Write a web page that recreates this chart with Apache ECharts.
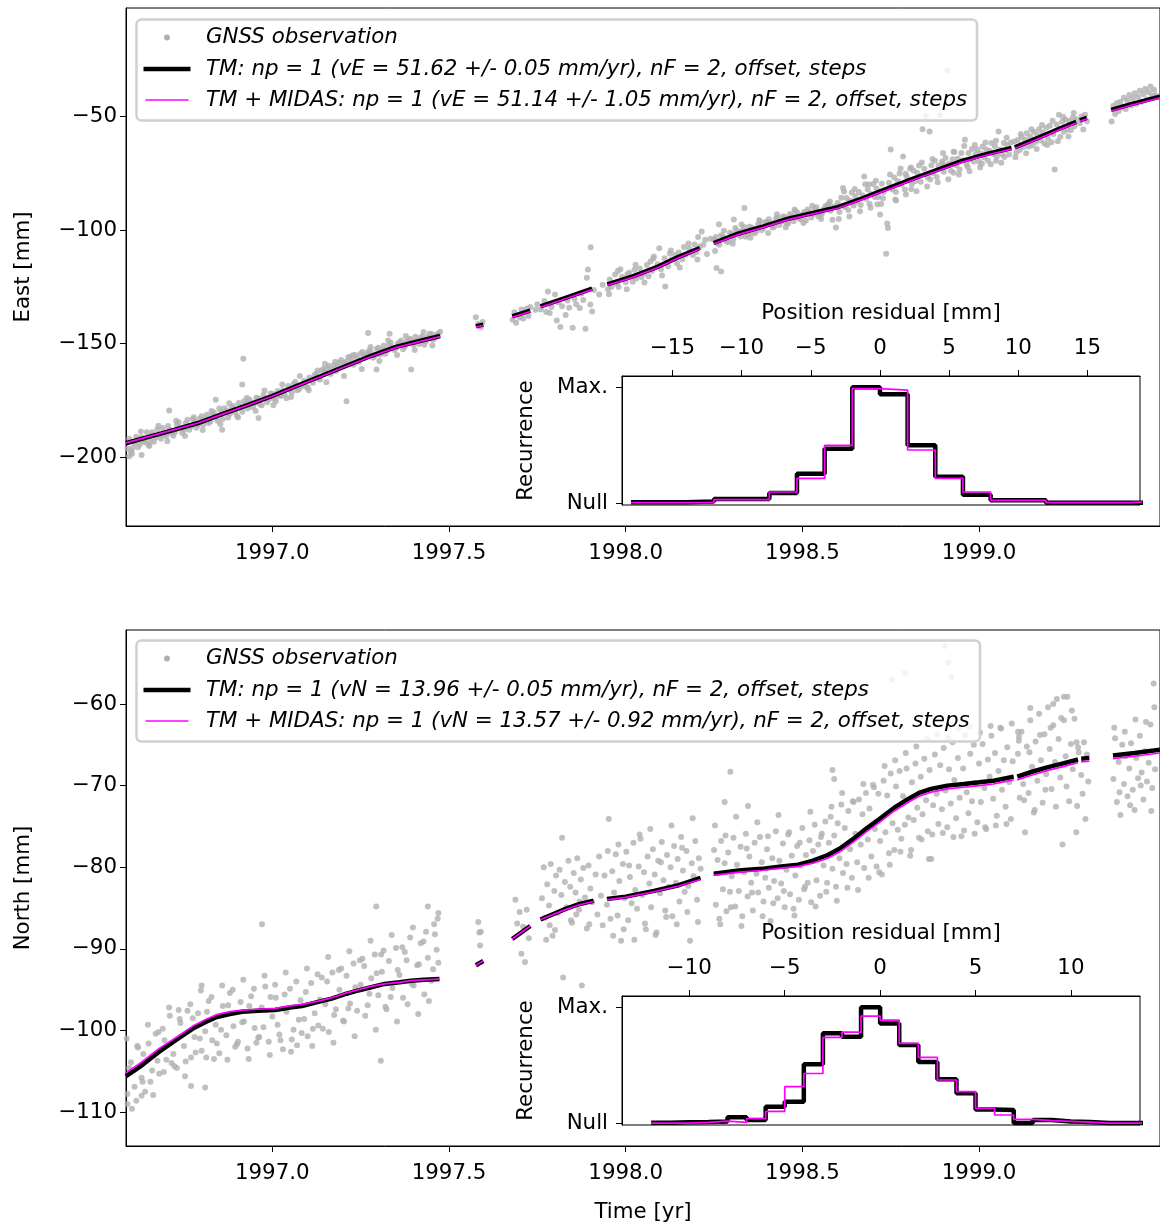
<!DOCTYPE html>
<html>
<head>
<meta charset="utf-8">
<script src="https://cdn.jsdelivr.net/npm/echarts@6.0.0/dist/echarts.min.js"></script>
<style>html,body{margin:0;padding:0;background:#fff}#c{width:1160px;height:1225px}</style>
</head>
<body>
<div id="c"></div>
<script>
// ---------------- DATA ----------------
const timeTicks = [1997.0, 1997.5, 1998.0, 1998.5, 1999.0];
const eastTicks = [-200, -150, -100, -50];
const northTicks = [-110, -100, -90, -80, -70, -60];
const eastResidTicks = [-15, -10, -5, 0, 5, 10, 15];
const northResidTicks = [-10, -5, 0, 5, 10];

const legendEast = ['GNSS observation',
  'TM: np = 1 (vE = 51.62 +/- 0.05 mm/yr), nF = 2, offset, steps',
  'TM + MIDAS: np = 1 (vE = 51.14 +/- 1.05 mm/yr), nF = 2, offset, steps'];
const legendNorth = ['GNSS observation',
  'TM: np = 1 (vN = 13.96 +/- 0.05 mm/yr), nF = 2, offset, steps',
  'TM + MIDAS: np = 1 (vN = 13.57 +/- 0.92 mm/yr), nF = 2, offset, steps'];

// East observations [time (yr), position (mm)]
const eastObs = [
[1996.59,-196.1],[1996.60,-197.3],[1996.61,-193.7],[1996.62,-195.5],[1996.63,-191.1],[1996.64,-193.4],[1996.65,-194.6],[1996.66,-189.0],[1996.67,-191.3],[1996.68,-190.0],[1996.69,-187.1],[1996.70,-190.6],[1996.71,-187.9],[1996.72,-190.5],[1996.73,-185.6],[1996.74,-186.9],[1996.75,-188.0],[1996.76,-183.4],[1996.77,-186.4],[1996.78,-184.2],[1996.79,-185.8],[1996.80,-181.9],[1996.81,-183.5],[1996.82,-184.9],[1996.83,-181.0],[1996.84,-182.3],[1996.85,-178.5],[1996.86,-183.1],[1996.87,-179.5],[1996.88,-180.8],[1996.89,-177.4],[1996.90,-181.8],[1996.91,-177.7],[1996.92,-175.3],[1996.93,-178.5],[1996.94,-175.7],[1996.95,-176.2],[1996.96,-174.0],[1996.97,-177.1],[1996.98,-174.0],[1996.99,-174.4],[1997.00,-172.0],[1997.01,-175.3],[1997.02,-173.0],[1997.03,-170.5],[1997.04,-174.0],[1997.05,-170.3],[1997.06,-167.8],[1997.07,-170.5],[1997.08,-169.0],[1997.09,-166.4],[1997.10,-169.3],[1997.11,-165.8],[1997.12,-163.8],[1997.13,-165.4],[1997.14,-161.8],[1997.15,-162.7],[1997.16,-159.7],[1997.17,-161.0],[1997.18,-162.0],[1997.19,-158.3],[1997.20,-159.8],[1997.21,-157.8],[1997.22,-155.7],[1997.23,-159.3],[1997.24,-156.3],[1997.25,-154.4],[1997.26,-156.3],[1997.27,-153.9],[1997.28,-154.2],[1997.29,-155.3],[1997.30,-151.8],[1997.31,-152.9],[1997.32,-154.4],[1997.33,-150.7],[1997.34,-151.8],[1997.35,-151.9],[1997.36,-149.4],[1997.37,-152.4],[1997.38,-149.3],[1997.39,-147.8],[1997.40,-150.5],[1997.41,-148.7],[1997.42,-147.3],[1997.43,-150.5],[1997.44,-147.1],[1997.45,-145.7],[1997.46,-147.5],[1997.47,-145.7],
[1996.595,-191.8],[1996.605,-195.9],[1996.615,-190.9],[1996.625,-194.2],[1996.635,-192.9],[1996.645,-188.9],[1996.655,-192.7],[1996.665,-193.1],[1996.675,-187.6],[1996.685,-191.8],[1996.695,-189.9],[1996.705,-186.2],[1996.715,-189.4],[1996.725,-188.8],[1996.735,-184.6],[1996.745,-189.3],[1996.755,-185.0],[1996.765,-187.8],[1996.775,-183.1],[1996.785,-187.0],[1996.795,-183.0],[1996.805,-185.7],[1996.815,-181.2],[1996.825,-184.2],[1996.835,-180.3],[1996.845,-183.9],[1996.855,-180.0],[1996.865,-178.4],[1996.875,-182.5],[1996.885,-178.1],[1996.895,-180.2],[1996.905,-176.1],[1996.915,-179.9],[1996.925,-176.4],[1996.935,-174.5],[1996.945,-177.9],[1996.955,-173.8],[1996.965,-176.6],[1996.975,-172.6],[1996.985,-175.7],[1996.995,-171.9],[1997.005,-174.3],[1997.015,-170.8],[1997.025,-172.9],[1997.035,-172.4],[1997.045,-168.6],[1997.055,-171.6],[1997.065,-166.8],[1997.075,-170.1],[1997.085,-167.9],[1997.095,-168.9],[1997.105,-164.9],[1997.115,-167.2],[1997.125,-163.1],[1997.135,-165.8],[1997.145,-161.0],[1997.155,-160.8],[1997.165,-163.3],[1997.175,-159.4],[1997.185,-160.1],[1997.195,-157.2],[1997.205,-158.6],[1997.215,-156.0],[1997.225,-157.5],[1997.235,-155.0],[1997.245,-158.1],[1997.255,-153.6],[1997.265,-155.1],[1997.275,-152.9],[1997.285,-156.2],[1997.295,-152.3],[1997.305,-154.8],[1997.315,-150.9],[1997.325,-153.0],[1997.335,-149.6],[1997.345,-152.8],[1997.355,-150.0],[1997.365,-148.6],[1997.375,-151.2],[1997.385,-148.1],[1997.395,-148.9],[1997.405,-146.9],[1997.415,-150.1],[1997.425,-146.8],[1997.435,-148.9],[1997.445,-145.6],[1997.455,-148.3],[1997.465,-146.0],[1997.475,-144.7],
[1996.918,-156.6],[1996.915,-168.0],[1996.84,-174.6],[1996.708,-179.4],[1997.21,-175.3],[1997.393,-161.4],[1997.295,-161.4],[1997.149,-158.8],[1997.271,-145.3],[1997.332,-145.6],[1996.961,-182.7],[1996.858,-187.8],[1996.595,-199.5],[1996.63,-199.0],
[1997.576,-138.4],[1997.583,-141.3],[1997.59,-142.8],[1997.595,-140.5],
[1997.68,-139.5],[1997.685,-136.2],[1997.69,-140.8],[1997.70,-138.5],[1997.705,-135.0],[1997.71,-138.9],[1997.72,-134.6],[1997.725,-137.8],[1997.73,-133.9],[1997.745,-135.1],[1997.75,-132.6],[1997.76,-134.9],[1997.77,-131.2],[1997.775,-136.0],[1997.78,-127.0],[1997.785,-136.5],[1997.79,-133.8],[1997.80,-128.4],[1997.805,-139.8],[1997.81,-131.9],[1997.815,-142.7],[1997.82,-133.5],[1997.83,-137.4],[1997.835,-131.0],[1997.84,-134.2],[1997.85,-143.0],[1997.855,-130.3],[1997.86,-132.6],[1997.87,-134.3],[1997.875,-127.9],[1997.88,-130.8],[1997.886,-143.4],[1997.89,-121.0],[1997.893,-117.4],[1997.90,-132.7],[1997.901,-107.6],[1997.905,-135.8],[1997.91,-126.4],[1997.925,-128.3],[1997.935,-124.1],
[1997.95,-126.0],[1997.955,-121.8],[1997.96,-124.9],[1997.97,-119.6],[1997.975,-123.6],[1997.98,-125.1],[1997.985,-117.2],[1997.99,-120.5],[1998.00,-123.0],[1998.005,-119.4],[1998.01,-118.8],[1998.02,-122.7],[1998.025,-117.5],[1998.03,-121.3],[1998.04,-116.9],[1998.045,-120.6],[1998.05,-119.2],[1998.06,-115.4],[1998.065,-120.3],[1998.07,-113.8],[1998.075,-117.9],[1998.08,-111.6],[1998.09,-115.0],[1998.095,-108.0],[1998.10,-117.2],[1998.11,-112.4],[1998.112,-124.8],[1998.12,-115.9],[1998.125,-110.3],[1998.13,-113.0],[1998.14,-111.0],[1998.145,-114.6],[1998.15,-109.9],[1998.16,-112.8],[1998.165,-107.5],[1998.17,-110.9],[1998.18,-108.2],[1998.19,-111.0],[1998.195,-106.4],[1998.20,-109.7],[1998.205,-103.0],[1998.21,-107.2],[1998.215,-100.6],[1998.22,-106.5],[1998.225,-104.3],[1998.23,-110.5],[1998.24,-103.8],[1998.257,-116.7],[1998.27,-118.2],
[1998.25,-104.2],[1998.26,-105.9],[1998.27,-102.3],[1998.28,-103.5],[1998.29,-105.2],[1998.30,-101.6],[1998.31,-99.1],[1998.32,-102.0],[1998.33,-100.2],[1998.34,-102.9],[1998.35,-98.5],[1998.36,-99.5],[1998.37,-100.5],[1998.38,-96.3],[1998.39,-99.1],[1998.40,-96.6],[1998.41,-96.8],[1998.42,-98.5],[1998.43,-94.5],[1998.44,-96.2],[1998.45,-94.1],[1998.46,-97.1],[1998.47,-93.8],[1998.48,-91.6],[1998.49,-94.9],[1998.50,-93.3],[1998.51,-95.8],[1998.52,-91.9],[1998.53,-92.9],[1998.54,-90.0],[1998.55,-93.2],[1998.56,-90.9],[1998.57,-89.2],[1998.58,-91.5],[1998.59,-89.6],
[1998.264,-97.4],[1998.306,-95.4],[1998.336,-90.3],[1998.355,-101.3],[1998.405,-95.2],[1998.455,-96.9],[1998.505,-92.0],[1998.545,-94.0],[1998.575,-88.4],[1998.585,-95.5],[1998.595,-98.9],
[1998.255,-103.1],[1998.265,-106.5],[1998.275,-102.9],[1998.285,-105.0],[1998.295,-101.2],[1998.305,-103.9],[1998.315,-100.3],[1998.325,-102.8],[1998.335,-98.7],[1998.345,-101.9],[1998.357,-98.9],[1998.365,-101.4],[1998.375,-97.4],[1998.385,-100.0],[1998.395,-96.4],[1998.415,-98.9],[1998.425,-95.1],[1998.435,-97.8],[1998.445,-94.0],[1998.465,-92.9],[1998.475,-96.1],[1998.485,-92.3],[1998.495,-95.2],[1998.515,-91.0],[1998.525,-94.5],[1998.535,-90.6],[1998.555,-92.9],[1998.565,-89.5],
[1998.600,-88.1],[1998.605,-92.0],[1998.610,-85.8],[1998.615,-81.5],[1998.620,-89.9],[1998.625,-85.9],[1998.630,-91.2],[1998.635,-87.1],[1998.640,-83.5],[1998.645,-89.2],[1998.650,-85.1],[1998.655,-87.4],[1998.660,-83.3],[1998.665,-89.0],[1998.670,-84.8],[1998.675,-76.4],[1998.680,-86.2],[1998.685,-82.2],[1998.690,-88.4],[1998.695,-84.1],[1998.700,-79.7],[1998.705,-85.4],[1998.710,-81.7],[1998.715,-85.5],[1998.720,-93.1],[1998.725,-79.6],[1998.730,-83.3],[1998.737,-110.4],[1998.740,-97.1],[1998.745,-79.2],[1998.750,-64.6],[1998.755,-82.1],[1998.760,-76.9],[1998.765,-83.2],[1998.770,-78.5],[1998.775,-75.1],[1998.780,-80.0],[1998.785,-67.6],[1998.790,-82.2],[1998.795,-76.3],[1998.800,-78.1],[1998.805,-72.9],[1998.810,-79.6],[1998.815,-73.9],[1998.820,-78.4],[1998.825,-74.8],[1998.830,-71.6],[1998.835,-78.7],[1998.840,-55.6],[1998.845,-73.0],[1998.850,-49.8],[1998.855,-76.9],[1998.860,-56.6],[1998.865,-71.5],[1998.870,-74.9],[1998.875,-69.5],[1998.880,-76.7],[1998.885,-71.7],[1998.890,-49.4],[1998.895,-69.9],[1998.900,-74.3],[1998.905,-68.3],[1998.910,-29.9],[1998.915,-70.8],[1998.920,-73.9],[1998.925,-68.8],[1998.930,-65.6],[1998.935,-71.5],[1998.940,-68.5],[1998.945,-73.3],[1998.950,-66.1],[1998.955,-69.3],[1998.960,-60.3],[1998.965,-71.1],[1998.970,-66.1],[1998.975,-69.0],[1998.980,-64.3],[1998.985,-69.8],[1998.990,-66.6],[1998.995,-64.5],[1999.000,-69.9],[1999.005,-66.3],[1999.010,-63.2],[1999.015,-68.1],[1999.020,-64.6],[1999.025,-69.4],[1999.030,-65.1],[1999.035,-61.7],[1999.040,-66.5],[1999.045,-63.1],[1999.050,-67.6],[1999.055,-56.6],[1999.060,-64.5],[1999.065,-66.8],[1999.070,-61.7],[1999.075,-64.8],[1999.080,-62.5],[1999.085,-66.7],[1999.090,-61.5],
[1998.742,-99.1],[1998.728,-86.0],[1998.712,-88.6],[1998.765,-87.0],[1998.688,-80.0],[1998.792,-75.2],[1998.808,-81.9],[1998.862,-77.8],[1998.898,-70.9],[1998.928,-74.8],[1998.968,-72.2],[1999.008,-70.8],[1999.048,-69.5],[1999.072,-67.9],
[1999.100,-61.0],[1999.105,-65.9],[1999.110,-60.4],[1999.115,-64.8],[1999.120,-58.9],[1999.125,-63.4],[1999.130,-60.1],[1999.135,-57.4],[1999.140,-63.2],[1999.145,-59.0],[1999.150,-62.7],[1999.155,-56.8],[1999.160,-61.3],[1999.165,-58.2],[1999.170,-55.7],[1999.175,-60.6],[1999.180,-57.1],[1999.185,-61.9],[1999.190,-55.0],[1999.195,-59.8],[1999.200,-54.1],[1999.205,-61.4],[1999.210,-57.7],[1999.214,-73.4],[1999.220,-53.6],[1999.226,-49.3],[1999.230,-58.9],[1999.235,-52.3],[1999.240,-56.8],[1999.245,-51.5],[1999.250,-55.9],[1999.255,-52.0],[1999.260,-56.0],[1999.265,-50.6],[1999.270,-54.3],[1999.275,-51.2],
[1999.285,-53.0],[1999.290,-50.0],[1999.295,-55.8],[1999.300,-49.3],[1999.305,-52.1],
[1999.375,-52.2],[1999.380,-45.3],[1999.385,-48.9],[1999.390,-44.1],[1999.395,-47.6],[1999.400,-43.5],[1999.405,-45.9],[1999.410,-41.8],[1999.415,-46.7],[1999.420,-43.0],[1999.425,-40.6],[1999.430,-45.2],[1999.435,-42.1],[1999.440,-39.8],[1999.445,-44.5],[1999.450,-41.3],[1999.455,-38.7],[1999.460,-43.6],[1999.465,-40.2],[1999.470,-37.9],[1999.475,-42.6],[1999.480,-39.4],[1999.485,-36.8],[1999.490,-41.0],[1999.495,-38.3],[1999.500,-40.7]
];
const eastObsWide = [
[1996.603,-198.4],[1996.628,-188.6],[1996.652,-195.0],[1996.678,-186.1],[1996.703,-192.9],[1996.728,-183.9],[1996.753,-190.6],[1996.778,-182.4],[1996.803,-188.0],[1996.828,-179.6],[1996.853,-185.4],[1996.878,-176.2],[1996.903,-182.5],[1996.928,-173.9],[1996.953,-179.6],[1996.978,-170.6],[1997.003,-177.1],[1997.028,-168.0],[1997.053,-173.4],[1997.078,-164.2],[1997.103,-170.5],[1997.128,-161.8],[1997.153,-167.0],[1997.178,-157.9],[1997.203,-164.2],[1997.228,-155.1],[1997.253,-161.1],[1997.278,-151.4],[1997.303,-157.6],[1997.328,-148.6],[1997.353,-155.0],[1997.378,-146.6],[1997.403,-152.8],[1997.428,-144.9],[1997.453,-150.8],
[1998.253,-109.2],[1998.278,-100.3],[1998.303,-106.0],[1998.328,-97.6],[1998.353,-103.4],[1998.378,-95.6],[1998.403,-101.3],[1998.428,-93.0],[1998.453,-98.8],[1998.478,-90.9],[1998.503,-96.9],[1998.528,-89.3],[1998.553,-95.1],[1998.578,-87.4],
[1998.603,-95.1],[1998.618,-83.0],[1998.633,-94.0],[1998.648,-81.9],[1998.663,-91.7],[1998.678,-79.8],[1998.693,-90.2],[1998.708,-78.3],[1998.723,-88.5],[1998.748,-75.6],[1998.763,-86.6],[1998.778,-72.9],[1998.793,-84.3],[1998.808,-72.5],[1998.823,-82.9],[1998.838,-70.3],[1998.853,-80.8],[1998.868,-68.7],[1998.883,-79.0],[1998.898,-66.1],[1998.913,-77.6],[1998.928,-65.5],[1998.943,-75.5],[1998.958,-63.0],[1998.973,-74.1],[1998.988,-62.6],[1999.003,-72.5],[1999.018,-61.5],[1999.033,-71.0],[1999.048,-60.7],[1999.063,-70.4],[1999.078,-59.4],
[1999.103,-68.0],[1999.118,-57.7],[1999.133,-66.2],[1999.148,-55.6],[1999.163,-64.3],[1999.178,-53.8],[1999.193,-62.6],[1999.208,-51.9],[1999.223,-60.9],[1999.238,-50.2],[1999.253,-58.8],[1999.268,-48.5],
[1997.953,-128.2],[1997.978,-118.0],[1998.003,-126.0],[1998.028,-115.3],[1998.053,-123.1],[1998.078,-112.5],[1998.103,-120.0],[1998.128,-109.0],[1998.153,-116.5],[1998.178,-105.9],[1998.203,-113.0]
];

// East trajectory model (segments separated by data gaps)
const eastTM = [
 [[1996.586,-193.8],[1996.65,-191.0],[1996.72,-188.0],[1996.79,-184.9],[1996.86,-180.9],[1996.93,-177.0],[1997.00,-173.0],[1997.07,-168.5],[1997.14,-164.1],[1997.21,-159.7],[1997.28,-155.3],[1997.35,-151.4],[1997.42,-148.7],[1997.475,-146.6]],
 [[1997.576,-142.3],[1997.597,-141.6]],
 [[1997.679,-138.0],[1997.73,-135.4]],
 [[1997.759,-133.6],[1997.83,-129.8],[1997.905,-125.8]],
 [[1997.948,-123.9],[1998.02,-120.4],[1998.09,-116.2],[1998.15,-111.8],[1998.21,-107.9]],
 [[1998.249,-105.7],[1998.32,-101.5],[1998.39,-98.4],[1998.46,-95.0],[1998.53,-92.5],[1998.60,-89.9],[1998.67,-86.0],[1998.74,-81.8],[1998.81,-77.6],[1998.88,-73.6],[1998.95,-69.7],[1999.02,-66.6],[1999.092,-63.9]],
 [[1999.101,-63.6],[1999.17,-59.2],[1999.23,-55.2],[1999.275,-52.4]],
 [[1999.285,-51.7],[1999.305,-50.6]],
 [[1999.374,-47.1],[1999.43,-44.6],[1999.512,-41.3]]
];
const eastMIDAS = [
 [[1996.586,-193.6],[1996.65,-190.9],[1996.72,-187.9],[1996.79,-184.9],[1996.86,-181.0],[1996.93,-177.1],[1997.00,-173.1],[1997.07,-168.7],[1997.14,-164.3],[1997.21,-159.9],[1997.28,-155.6],[1997.35,-151.7],[1997.42,-149.0],[1997.475,-146.9]],
 [[1997.576,-142.7],[1997.597,-142.0]],
 [[1997.679,-138.4],[1997.73,-135.8]],
 [[1997.759,-134.0],[1997.83,-130.2],[1997.905,-126.2]],
 [[1997.948,-124.3],[1998.02,-120.8],[1998.09,-116.6],[1998.15,-112.2],[1998.21,-108.3]],
 [[1998.249,-106.1],[1998.32,-101.9],[1998.39,-98.8],[1998.46,-95.4],[1998.53,-92.9],[1998.60,-90.4],[1998.67,-86.5],[1998.74,-82.3],[1998.81,-78.1],[1998.88,-74.1],[1998.95,-70.2],[1999.02,-67.1],[1999.092,-64.4]],
 [[1999.101,-64.1],[1999.17,-59.7],[1999.23,-55.7],[1999.275,-52.9]],
 [[1999.285,-52.2],[1999.305,-51.1]],
 [[1999.374,-47.6],[1999.43,-45.1],[1999.512,-41.8]]
];

// North observations
const northObs = [
[1996.59,-107.8],[1996.60,-103.9],[1996.61,-106.9],[1996.62,-102.1],[1996.63,-105.8],[1996.64,-107.5],[1996.65,-101.6],[1996.66,-104.9],[1996.67,-100.4],[1996.68,-105.3],[1996.69,-99.8],[1996.70,-103.6],[1996.71,-98.2],[1996.72,-102.9],[1996.73,-104.6],[1996.74,-99.1],[1996.75,-101.9],[1996.76,-97.6],[1996.77,-103.3],[1996.78,-100.8],[1996.79,-97.9],[1996.80,-102.5],[1996.81,-100.1],[1996.82,-96.4],[1996.83,-101.2],[1996.84,-99.3],[1996.85,-102.8],[1996.86,-97.0],[1996.87,-100.6],[1996.88,-95.4],[1996.89,-99.5],[1996.90,-101.7],[1996.91,-96.5],[1996.92,-98.9],[1996.93,-102.2],[1996.94,-95.8],[1996.95,-99.7],[1996.96,-100.9],[1996.97,-97.2],[1996.98,-94.6],[1996.99,-101.4],[1997.00,-98.3],[1997.01,-96.0],[1997.02,-100.5],[1997.03,-102.3],[1997.04,-97.7],[1997.05,-94.9],[1997.06,-99.9],[1997.07,-101.8],[1997.08,-96.3],[1997.09,-98.6],[1997.10,-100.7],[1997.11,-94.2],[1997.12,-97.9],[1997.13,-99.4],[1997.14,-93.5],[1997.15,-96.8],[1997.16,-100.2],[1997.17,-92.9],[1997.18,-97.4],[1997.19,-95.0],[1997.20,-98.8],[1997.21,-93.3],[1997.22,-96.7],[1997.23,-91.8],[1997.24,-97.6],[1997.25,-94.4],[1997.26,-92.1],[1997.27,-96.9],[1997.28,-93.6],[1997.29,-90.7],[1997.30,-95.7],[1997.31,-92.8],[1997.32,-97.1],[1997.33,-91.5],[1997.34,-94.8],[1997.35,-89.9],[1997.36,-93.2],[1997.37,-96.0],[1997.38,-91.4],[1997.39,-88.6],[1997.40,-94.5],[1997.41,-92.0],[1997.42,-89.3],[1997.43,-95.6],[1997.44,-91.1],[1997.45,-93.9],[1997.46,-88.2],[1997.47,-91.7],
[1996.595,-104.6],[1996.615,-108.6],[1996.635,-102.9],[1996.655,-106.3],[1996.675,-103.7],[1996.695,-101.2],[1996.715,-104.0],[1996.735,-97.5],[1996.755,-103.8],[1996.775,-98.5],[1996.795,-101.0],[1996.815,-97.7],[1996.835,-103.5],[1996.855,-99.9],[1996.875,-96.9],[1996.895,-102.0],[1996.915,-99.0],[1996.935,-97.0],[1996.955,-101.5],[1996.975,-99.6],[1996.995,-95.9],[1997.015,-99.3],[1997.035,-95.6],[1997.055,-101.1],[1997.075,-98.7],[1997.095,-95.3],[1997.115,-99.8],[1997.135,-96.2],[1997.155,-94.0],[1997.175,-98.1],[1997.195,-92.4],[1997.215,-97.3],[1997.235,-94.7],[1997.255,-91.2],[1997.275,-95.5],[1997.295,-93.0],[1997.315,-90.2],[1997.335,-95.9],[1997.355,-92.6],[1997.375,-90.4],[1997.395,-94.3],[1997.415,-91.9],[1997.435,-87.9],[1997.455,-92.5],[1997.465,-90.1],
[1996.971,-87.0],[1996.80,-94.5],[1997.294,-84.8],[1997.44,-84.8],[1997.47,-85.6],[1997.468,-86.3],[1997.307,-103.7],[1996.81,-107.0],[1996.77,-106.8],[1996.59,-109.0],[1996.63,-108.0],
[1997.583,-86.7],[1997.586,-88.0],[1997.588,-89.6],[1997.59,-87.9],
[1997.688,-84.0],[1997.693,-86.9],[1997.70,-85.5],[1997.705,-90.6],[1997.71,-87.3],[1997.715,-91.6],[1997.72,-85.2],[1997.726,-88.7],
[1997.763,-83.8],[1997.768,-80.0],[1997.772,-86.2],[1997.775,-88.9],[1997.778,-82.1],[1997.783,-84.7],[1997.785,-87.1],[1997.788,-79.6],[1997.793,-88.4],[1997.798,-82.9],[1997.80,-87.7],[1997.803,-81.0],[1997.808,-85.6],[1997.813,-80.3],[1997.818,-83.4],[1997.82,-76.4],[1997.823,-93.5],[1997.828,-81.8],[1997.833,-84.9],[1997.838,-79.2],[1997.843,-82.4],[1997.845,-86.5],[1997.848,-86.8],[1997.853,-80.7],[1997.858,-83.1],[1997.86,-85.8],[1997.863,-78.9],[1997.868,-85.2],[1997.87,-84.2],[1997.873,-81.5],[1997.876,-94.5],[1997.88,-80.1],[1997.885,-83.7],[1997.89,-87.5],[1997.895,-79.8],[1997.897,-87.0],[1997.90,-82.6],[1997.905,-84.3],
[1997.915,-80.9],[1997.92,-85.8],[1997.925,-78.7],[1997.93,-83.5],[1997.935,-87.1],[1997.94,-81.0],
[1997.947,-84.6],[1997.952,-74.1],[1997.957,-86.3],[1997.962,-80.5],[1997.967,-83.1],[1997.972,-78.4],[1997.977,-85.9],[1997.982,-81.7],[1997.987,-89.0],[1997.992,-79.6],[1997.997,-83.8],[1998.002,-78.1],[1998.007,-86.5],[1998.012,-81.2],[1998.017,-84.4],[1998.022,-77.0],[1998.027,-82.8],[1998.032,-85.1],[1998.037,-79.9],[1998.042,-76.5],[1998.047,-83.4],[1998.052,-80.6],[1998.057,-87.6],[1998.062,-78.7],[1998.067,-82.0],[1998.072,-84.9],[1998.077,-77.8],[1998.082,-80.9],[1998.087,-88.0],[1998.092,-79.2],[1998.097,-83.2],[1998.102,-76.9],[1998.107,-81.6],[1998.112,-85.3],[1998.117,-78.5],[1998.122,-82.4],[1998.127,-80.0],[1998.132,-86.0],[1998.137,-77.4],[1998.142,-81.9],[1998.147,-79.0],[1998.152,-84.2],[1998.157,-76.3],[1998.162,-80.4],[1998.167,-83.0],[1998.172,-78.0],[1998.177,-82.3],[1998.182,-89.0],[1998.187,-79.5],[1998.192,-81.1],[1998.197,-76.8],[1998.202,-84.0],[1998.207,-78.9],[1998.212,-80.2],
[1998.296,-68.3],[1998.28,-72.0],[1998.346,-72.5],[1998.585,-68.1],[1998.59,-69.2],[1998.858,-79.0],[1998.754,-57.0],[1998.79,-56.2],[1998.902,-52.9],[1998.913,-54.9],[1998.921,-56.7],[1999.11,-63.4],[1999.113,-64.0],[1999.145,-60.5],[1999.21,-60.0],[1999.24,-59.1],[1999.276,-64.7],[1999.282,-65.9],
[1998.250,-77.9],[1998.255,-84.6],[1998.260,-79.1],[1998.265,-86.3],[1998.270,-76.8],[1998.275,-82.7],[1998.280,-79.5],[1998.285,-85.4],[1998.290,-78.2],[1998.295,-83.0],[1998.300,-81.1],[1998.305,-76.4],[1998.310,-84.8],[1998.315,-79.7],[1998.320,-82.9],[1998.325,-77.5],[1998.330,-86.0],[1998.335,-80.6],[1998.340,-75.9],[1998.345,-83.6],[1998.350,-78.7],[1998.355,-81.9],[1998.360,-85.3],[1998.365,-77.0],[1998.370,-80.8],[1998.375,-83.1],[1998.380,-76.3],[1998.385,-79.4],[1998.390,-84.2],[1998.395,-81.3],[1998.400,-77.8],[1998.405,-82.5],[1998.410,-86.6],[1998.415,-78.9],[1998.420,-81.7],[1998.425,-75.6],[1998.430,-83.8],[1998.435,-79.2],[1998.440,-82.0],[1998.445,-77.1],[1998.450,-84.9],[1998.455,-80.3],[1998.460,-76.0],[1998.465,-83.3],[1998.470,-78.6],[1998.475,-85.1],[1998.480,-81.0],[1998.485,-77.4],[1998.490,-84.0],[1998.495,-79.8],[1998.500,-75.2],[1998.505,-82.7],[1998.510,-78.5],[1998.515,-81.9],[1998.520,-76.7],[1998.525,-84.3],[1998.530,-78.0],[1998.535,-74.8],[1998.540,-81.6],[1998.545,-77.2],[1998.550,-83.5],[1998.555,-75.9],[1998.560,-79.8],[1998.565,-74.4],[1998.570,-81.9],[1998.575,-77.0],[1998.580,-73.8],[1998.585,-80.2],[1998.590,-76.1],[1998.595,-82.4],[1998.600,-74.6],[1998.605,-78.9],[1998.610,-72.3],[1998.615,-80.7],[1998.620,-75.2],[1998.625,-79.6],[1998.630,-73.1],[1998.635,-77.8],[1998.640,-81.3],[1998.645,-72.0],[1998.650,-75.9],[1998.655,-79.4],[1998.660,-71.7],[1998.665,-77.2],[1998.670,-73.5],[1998.675,-80.1],[1998.680,-70.9],[1998.685,-76.6],[1998.690,-72.8],[1998.695,-78.7],[1998.700,-69.9],[1998.705,-75.3],[1998.710,-79.9],[1998.715,-71.0],[1998.720,-76.8],[1998.725,-80.9],[1998.730,-69.4],[1998.735,-75.7],[1998.740,-71.2],[1998.745,-78.3],[1998.750,-68.5],[1998.755,-74.6],[1998.760,-77.9],[1998.765,-70.1],[1998.770,-75.4],[1998.775,-68.2],[1998.780,-76.5],[1998.785,-71.3],[1998.790,-74.8],[1998.795,-67.9],[1998.800,-73.9],[1998.805,-78.6],[1998.810,-69.6],[1998.815,-74.2],[1998.820,-67.3],[1998.825,-72.7],[1998.830,-76.4],[1998.835,-68.9],[1998.840,-73.5],[1998.845,-66.7],[1998.850,-71.8],[1998.855,-75.6],[1998.860,-68.1],[1998.865,-79.0],[1998.870,-72.4],[1998.875,-66.2],[1998.880,-71.0],[1998.885,-74.7],[1998.890,-67.5],[1998.895,-72.9],[1998.900,-65.4],[1998.905,-70.6],[1998.910,-75.1],[1998.915,-68.0],[1998.920,-72.2],[1998.925,-64.7],[1998.930,-69.3],[1998.935,-74.0],[1998.940,-66.6],[1998.945,-71.5],[1998.950,-76.2],[1998.955,-67.9],[1998.960,-63.8],[1998.965,-70.8],[1998.970,-73.4],[1998.975,-66.1],[1998.980,-71.9],[1998.985,-65.0],[1998.990,-69.7],[1998.995,-74.5],[1999.000,-67.3],[1999.005,-72.0],[1999.010,-64.9],[1999.015,-70.3],[1999.020,-75.3],[1999.025,-66.8],[1999.030,-68.9],[1999.035,-63.9],[1999.040,-71.6],[1999.045,-66.0],[1999.050,-73.7],[1999.055,-68.2],[1999.060,-62.9],[1999.065,-70.5],[1999.070,-66.9],[1999.075,-72.6],[1999.080,-65.3],[1999.085,-69.6],[1999.090,-74.1],[1999.095,-67.0],
[1999.110,-66.1],[1999.115,-71.5],[1999.120,-63.4],[1999.125,-69.8],[1999.130,-75.7],[1999.135,-65.2],[1999.140,-70.9],[1999.145,-62.0],[1999.150,-67.7],[1999.155,-73.3],[1999.160,-64.6],[1999.165,-69.4],[1999.170,-61.2],[1999.175,-66.9],[1999.180,-72.1],[1999.185,-63.7],[1999.190,-68.6],[1999.195,-60.4],[1999.200,-65.5],[1999.205,-70.4],[1999.210,-62.6],[1999.215,-67.1],[1999.220,-59.4],[1999.225,-64.3],[1999.230,-69.0],[1999.236,-77.2],[1999.240,-62.0],[1999.245,-66.4],[1999.250,-59.1],[1999.255,-71.9],[1999.260,-64.9],[1999.265,-68.0],[1999.270,-61.8],[1999.275,-75.7],[1999.280,-65.3],
[1999.289,-68.7],[1999.293,-71.0],[1999.297,-64.7],[1999.301,-74.1],[1999.305,-66.2],[1999.309,-69.5],
[1999.380,-69.2],[1999.385,-64.2],[1999.390,-72.0],[1999.395,-67.1],[1999.400,-73.6],[1999.405,-65.0],[1999.410,-69.8],[1999.415,-66.4],[1999.420,-71.3],[1999.425,-67.9],[1999.430,-64.8],[1999.435,-70.5],[1999.440,-73.0],[1999.445,-66.6],[1999.450,-69.1],[1999.455,-63.9],[1999.460,-68.4],[1999.465,-71.7],[1999.470,-65.8],[1999.475,-69.5],[1999.480,-67.2],[1999.485,-62.5],[1999.490,-70.3],[1999.494,-57.5],[1999.496,-60.4],[1999.498,-68.0]
];
const northObsWide = [
[1996.588,-101.0],[1996.603,-109.6],[1996.618,-101.9],[1996.633,-106.3],[1996.648,-99.3],[1996.663,-107.9],[1996.678,-100.2],[1996.693,-105.1],[1996.708,-97.2],[1996.723,-104.4],[1996.738,-98.6],[1996.753,-105.6],[1996.768,-96.8],[1996.783,-102.7],[1996.798,-95.1],[1996.813,-103.3],[1996.828,-95.9],[1996.843,-101.6],[1996.858,-94.5],[1996.873,-103.6],[1996.888,-95.0],[1996.903,-101.4],[1996.918,-93.8],[1996.933,-103.5],[1996.948,-94.9],[1996.963,-100.8],[1996.978,-93.3],[1996.993,-103.0],[1997.008,-94.4],[1997.023,-101.2],[1997.038,-92.9],[1997.053,-102.6],[1997.068,-94.0],[1997.083,-100.3],[1997.098,-92.4],[1997.113,-101.9],[1997.128,-93.1],[1997.143,-99.8],[1997.158,-91.0],[1997.173,-101.5],[1997.188,-92.6],[1997.203,-98.9],[1997.218,-90.3],[1997.233,-100.7],[1997.248,-91.4],[1997.263,-98.2],[1997.278,-89.0],[1997.293,-99.9],[1997.308,-90.7],[1997.323,-97.4],[1997.338,-88.3],[1997.353,-98.9],[1997.368,-89.8],[1997.383,-96.8],[1997.398,-87.4],[1997.413,-98.0],[1997.428,-89.1],[1997.443,-96.4],[1997.458,-87.0],
[1997.9495,-78.0],[1997.9645,-88.4],[1997.9795,-77.2],[1997.9945,-87.6],[1998.0095,-79.8],[1998.0245,-88.9],[1998.0395,-76.0],[1998.0545,-86.9],[1998.0695,-75.3],[1998.0845,-88.3],[1998.0995,-79.4],[1998.1145,-86.1],[1998.1295,-74.9],[1998.1445,-87.0],[1998.1595,-77.6],[1998.1745,-85.5],[1998.1895,-74.0],[1998.2045,-86.7],
[1998.2525,-74.9],[1998.2675,-87.0],[1998.2825,-76.1],[1998.2975,-84.9],[1998.3125,-73.8],[1998.3275,-87.2],[1998.3425,-77.7],[1998.3575,-83.1],[1998.3725,-74.5],[1998.3875,-86.0],[1998.4025,-76.2],[1998.4175,-84.4],[1998.4325,-73.6],[1998.4475,-82.9],[1998.4625,-75.7],[1998.4775,-85.9],[1998.4925,-77.0],[1998.5075,-82.4],[1998.5225,-73.2],[1998.5375,-84.8],[1998.5525,-76.3],[1998.5675,-83.0],[1998.5825,-72.6],[1998.5975,-84.1],[1998.6125,-70.9],[1998.6275,-82.5],[1998.6425,-71.9],[1998.6575,-82.8],[1998.6725,-69.8],[1998.6875,-81.3],[1998.7025,-70.2],[1998.7175,-80.6],[1998.7325,-67.6],[1998.7475,-79.7],[1998.7625,-66.9],[1998.7775,-78.1],[1998.7925,-66.0],[1998.8075,-77.9],[1998.8225,-65.2],[1998.8375,-76.6],[1998.8525,-64.3],[1998.8675,-76.0],[1998.8825,-63.7],[1998.8975,-75.8],[1998.9125,-64.1],[1998.9275,-76.3],[1998.9425,-63.0],[1998.9575,-75.5],[1998.9725,-62.8],[1998.9875,-75.9],[1999.0025,-63.5],[1999.0175,-75.1],[1999.0325,-62.7],[1999.0475,-74.9],[1999.0625,-63.0],[1999.0775,-74.7],[1999.0925,-62.4],
[1999.1125,-64.5],[1999.1275,-71.8],[1999.1425,-65.9],[1999.1575,-73.0],[1999.1725,-63.8],[1999.1875,-70.5],[1999.2025,-62.9],[1999.2175,-72.6],[1999.2325,-61.7],[1999.2475,-70.1],[1999.2625,-60.8],[1999.2775,-72.5],
[1999.3825,-62.9],[1999.3975,-70.8],[1999.4125,-63.4],[1999.4275,-72.4],[1999.4425,-61.9],[1999.4575,-70.0],[1999.4725,-62.2],[1999.4875,-73.1]
];

const northTM = [
 [[1996.586,-105.6],[1996.63,-104.3],[1996.68,-102.6],[1996.73,-101.1],[1996.774,-99.8],[1996.81,-99.0],[1996.84,-98.4],[1996.88,-98.0],[1996.915,-97.7],[1996.96,-97.6],[1997.008,-97.5],[1997.05,-97.2],[1997.084,-97.0],[1997.13,-96.5],[1997.168,-96.1],[1997.21,-95.5],[1997.243,-95.1],[1997.28,-94.7],[1997.318,-94.3],[1997.36,-94.1],[1997.393,-93.9],[1997.43,-93.8],[1997.473,-93.7]],
 [[1997.576,-92.0],[1997.597,-91.5]],
 [[1997.679,-88.8],[1997.730,-87.2]],
 [[1997.759,-86.4],[1997.83,-85.1],[1997.87,-84.5],[1997.909,-84.1]],
 [[1997.947,-83.9],[1998.0,-83.6],[1998.08,-82.9],[1998.15,-82.2],[1998.212,-81.3]],
 [[1998.249,-80.8],[1998.32,-80.4],[1998.384,-80.2],[1998.44,-79.9],[1998.488,-79.7],[1998.53,-79.2],[1998.572,-78.5],[1998.61,-77.6],[1998.645,-76.5],[1998.68,-75.3],[1998.718,-74.1],[1998.76,-72.7],[1998.801,-71.6],[1998.83,-70.9],[1998.864,-70.4],[1998.91,-70.0],[1998.957,-69.8],[1999.0,-69.6],[1999.041,-69.4],[1999.098,-68.9]],
 [[1999.108,-68.9],[1999.15,-68.3],[1999.19,-67.8],[1999.235,-67.3],[1999.28,-66.8]],
 [[1999.289,-66.7],[1999.312,-66.6]],
 [[1999.379,-66.3],[1999.44,-66.0],[1999.512,-65.6]]
];
const northMIDAS = [
 [[1996.586,-105.2],[1996.63,-103.9],[1996.68,-102.2],[1996.73,-100.8],[1996.774,-99.5],[1996.81,-98.7],[1996.84,-98.1],[1996.88,-97.7],[1996.915,-97.5],[1996.96,-97.4],[1997.008,-97.3],[1997.05,-97.0],[1997.084,-96.8],[1997.13,-96.4],[1997.168,-96.0],[1997.21,-95.4],[1997.243,-95.0],[1997.28,-94.6],[1997.318,-94.3],[1997.36,-94.1],[1997.393,-93.9],[1997.43,-93.8],[1997.473,-93.7]],
 [[1997.576,-92.0],[1997.597,-91.5]],
 [[1997.679,-88.8],[1997.730,-87.2]],
 [[1997.759,-86.4],[1997.83,-85.2],[1997.87,-84.6],[1997.909,-84.2]],
 [[1997.947,-84.0],[1998.0,-83.7],[1998.08,-83.0],[1998.15,-82.3],[1998.212,-81.5]],
 [[1998.249,-81.0],[1998.32,-80.6],[1998.384,-80.4],[1998.44,-80.1],[1998.488,-79.9],[1998.53,-79.5],[1998.572,-78.9],[1998.61,-78.0],[1998.645,-76.9],[1998.68,-75.7],[1998.718,-74.5],[1998.76,-73.1],[1998.801,-72.0],[1998.83,-71.3],[1998.864,-70.8],[1998.91,-70.4],[1998.957,-70.2],[1999.0,-70.0],[1999.041,-69.8],[1999.098,-69.3]],
 [[1999.108,-69.3],[1999.15,-68.7],[1999.19,-68.2],[1999.235,-67.7],[1999.28,-67.2]],
 [[1999.289,-67.1],[1999.312,-67.0]],
 [[1999.379,-66.7],[1999.44,-66.4],[1999.512,-66.0]]
];

// Residual histograms (bin edges in mm, heights relative to max)
const eastHistEdges = [-18,-16,-14,-12,-10,-8,-6,-4,-2,0,2,4,6,8,10,12,14,16,18,20];
const eastHistTM    = [0.009,0.009,0.017,0.037,0.037,0.089,0.256,0.47,1.0,0.94,0.50,0.23,0.075,0.026,0.026,0.006,0.006,0.006,0.006];
const eastHistMIDAS = [0.006,0.006,0.006,0.032,0.032,0.098,0.216,0.50,0.99,0.977,0.46,0.216,0.098,0.026,0.026,0.006,0.006,0.006,0.017];
const northHistEdges = [-12,-11,-10,-9,-8,-7,-6,-5,-4,-3,-2,-1,0,1,2,3,4,5,6,7,8,9,10,11,12,13,14];
const northHistTM    = [0.006,0.009,0.011,0.017,0.052,0.029,0.144,0.187,0.51,0.776,0.747,1.0,0.862,0.675,0.53,0.38,0.259,0.12,0.115,0.003,0.029,0.017,0.011,0.003,0.003,0.003];
const northHistMIDAS = [0.003,0.003,0.009,0.02,0.009,0.04,0.103,0.316,0.43,0.741,0.787,0.925,0.89,0.69,0.569,0.374,0.273,0.129,0.072,0.034,0.023,0.017,0.011,0.003,0.003,0.003];

// ---------------- BUILD ----------------
const FONT = 'DejaVu Sans';
const FS = 21.35;
const GREY = '#b0b0b0', BLACK = '#000', MAG = '#ff00ff';
const minus = v => String(v).replace('-', '\u2212');

function joinSegs(segs) {
  const out = [];
  segs.forEach((s, i) => { if (i) out.push([s[0][0], '-']); s.forEach(p => out.push(p)); });
  return out;
}
function stepData(edges, vals) {
  return edges.map((e, i) => [e, vals[Math.min(i, vals.length - 1)]]);
}

const axisCommon = {
  axisLine: { show: true, onZero: false, lineStyle: { color: BLACK, width: 1 } },
  splitLine: { show: false },
  nameTextStyle: { fontFamily: FONT, fontSize: FS, color: BLACK },
};
function xMain(gi, name) {
  return Object.assign({}, axisCommon, {
    type: 'value', gridIndex: gi, min: 1996.586, max: 1999.512,
    axisTick: { show: true, length: 6, customValues: timeTicks, lineStyle: { color: BLACK } },
    axisLabel: { customValues: timeTicks, formatter: v => Number(v).toFixed(1), fontFamily: FONT, fontSize: FS, color: BLACK, margin: 17 },
    name: name || '', nameLocation: 'middle', nameGap: 56
  });
}
function yMain(gi, min, max, ticks, name) {
  return Object.assign({}, axisCommon, {
    type: 'value', gridIndex: gi, min: min, max: max,
    axisTick: { show: true, length: 6, customValues: ticks, lineStyle: { color: BLACK } },
    axisLabel: { customValues: ticks, formatter: minus, fontFamily: FONT, fontSize: FS, color: BLACK, margin: 9 },
    name: name, nameLocation: 'middle', nameGap: 92
  });
}
function xInset(gi, min, max, ticks) {
  return Object.assign({}, axisCommon, {
    type: 'value', gridIndex: gi, min: min, max: max, position: 'top', z: 10,
    axisTick: { show: true, length: 6, customValues: ticks, lineStyle: { color: BLACK } },
    axisLabel: { customValues: ticks, formatter: minus, fontFamily: FONT, fontSize: FS, color: BLACK, margin: 17 },
    name: 'Position residual [mm]', nameLocation: 'middle', nameGap: 52
  });
}
function yInset(gi) {
  return Object.assign({}, axisCommon, {
    type: 'value', gridIndex: gi, min: -0.014, max: 1.098, z: 10,
    axisTick: { show: true, length: 6, customValues: [0, 1], lineStyle: { color: BLACK } },
    axisLabel: { customValues: [0, 1], formatter: v => (v >= 0.5 ? 'Max.' : 'Null'), fontFamily: FONT, fontSize: FS, color: BLACK, margin: 14 },
    name: 'Recurrence', nameLocation: 'middle', nameGap: 85
  });
}

function legendGraphics(x, y, w, h, labels) {
  const font = 'italic ' + FS + 'px "' + FONT + '"';
  const rows = [y + 18, y + 49.5, y + 80.5];
  return [
    { type: 'rect', z: 100, shape: { x: x, y: y, width: w, height: h, r: 5 }, style: { fill: 'rgba(255,255,255,0.8)', stroke: '#d0d0d0', lineWidth: 2.5 } },
    { type: 'circle', z: 101, shape: { cx: x + 30.5, cy: rows[0], r: 3 }, style: { fill: GREY } },
    { type: 'line', z: 101, shape: { x1: x + 7, y1: rows[1], x2: x + 54, y2: rows[1] }, style: { stroke: BLACK, lineWidth: 4.5 } },
    { type: 'line', z: 101, shape: { x1: x + 9, y1: rows[2], x2: x + 52, y2: rows[2] }, style: { stroke: MAG, lineWidth: 1.7 } },
    { type: 'text', z: 101, x: x + 69.5, y: rows[0], style: { text: labels[0], font: font, fill: BLACK, verticalAlign: 'middle' } },
    { type: 'text', z: 101, x: x + 69.5, y: rows[1], style: { text: labels[1], font: font, fill: BLACK, verticalAlign: 'middle' } },
    { type: 'text', z: 101, x: x + 69.5, y: rows[2], style: { text: labels[2], font: font, fill: BLACK, verticalAlign: 'middle' } }
  ];
}

const chart = echarts.init(document.getElementById('c'), null, { renderer: 'canvas' });
const option = {
  animation: false,
  backgroundColor: '#fff',
  textStyle: { fontFamily: FONT },
  grid: [
    { left: 126, top: 8, width: 1040, height: 518, show: true, borderColor: BLACK, borderWidth: 1, backgroundColor: '#fff' },
    { left: 622, top: 376, width: 518, height: 129, show: true, borderColor: BLACK, borderWidth: 1, backgroundColor: '#fff', z: 5 },
    { left: 126, top: 630, width: 1040, height: 516, show: true, borderColor: BLACK, borderWidth: 1, backgroundColor: '#fff' },
    { left: 622, top: 996, width: 518, height: 129, show: true, borderColor: BLACK, borderWidth: 1, backgroundColor: '#fff', z: 5 }
  ],
  xAxis: [
    xMain(0, ''),
    xInset(1, -18.65, 18.8, eastResidTicks),
    xMain(2, 'Time [yr]'),
    xInset(3, -13.53, 13.62, northResidTicks)
  ],
  yAxis: [
    yMain(0, -230.2, -2.3, eastTicks, 'East [mm]'),
    yInset(1),
    yMain(2, -114.16, -50.93, northTicks, 'North [mm]'),
    yInset(3)
  ],
  series: [
    { type: 'scatter', name: legendEast[0], xAxisIndex: 0, yAxisIndex: 0, data: eastObs.concat(eastObsWide), symbol: 'circle', symbolSize: 6, itemStyle: { color: GREY }, z: 2 },
    { type: 'line', name: legendEast[1], xAxisIndex: 0, yAxisIndex: 0, data: joinSegs(eastTM), showSymbol: false, lineStyle: { color: BLACK, width: 4.5 }, z: 3 },
    { type: 'line', name: legendEast[2], xAxisIndex: 0, yAxisIndex: 0, data: joinSegs(eastMIDAS), showSymbol: false, lineStyle: { color: MAG, width: 1.7 }, z: 4 },
    { type: 'line', xAxisIndex: 1, yAxisIndex: 1, data: stepData(eastHistEdges, eastHistTM), step: 'end', showSymbol: false, lineStyle: { color: BLACK, width: 4.5 }, z: 11 },
    { type: 'line', xAxisIndex: 1, yAxisIndex: 1, data: stepData(eastHistEdges, eastHistMIDAS), step: 'end', showSymbol: false, lineStyle: { color: MAG, width: 1.7 }, z: 12 },
    { type: 'scatter', name: legendNorth[0], xAxisIndex: 2, yAxisIndex: 2, data: northObs.concat(northObsWide), symbol: 'circle', symbolSize: 6, itemStyle: { color: GREY }, z: 2 },
    { type: 'line', name: legendNorth[1], xAxisIndex: 2, yAxisIndex: 2, data: joinSegs(northTM), showSymbol: false, lineStyle: { color: BLACK, width: 4.5 }, z: 3 },
    { type: 'line', name: legendNorth[2], xAxisIndex: 2, yAxisIndex: 2, data: joinSegs(northMIDAS), showSymbol: false, lineStyle: { color: MAG, width: 1.7 }, z: 4 },
    { type: 'line', xAxisIndex: 3, yAxisIndex: 3, data: stepData(northHistEdges, northHistTM), step: 'end', showSymbol: false, lineStyle: { color: BLACK, width: 4.5 }, z: 11 },
    { type: 'line', xAxisIndex: 3, yAxisIndex: 3, data: stepData(northHistEdges, northHistMIDAS), step: 'end', showSymbol: false, lineStyle: { color: MAG, width: 1.7 }, z: 12 }
  ],
  graphic: legendGraphics(136.5, 19.5, 840.5, 101, legendEast).concat(legendGraphics(136.5, 640.5, 843.5, 101, legendNorth))
};
chart.setOption(option);
</script>
</body>
</html>
